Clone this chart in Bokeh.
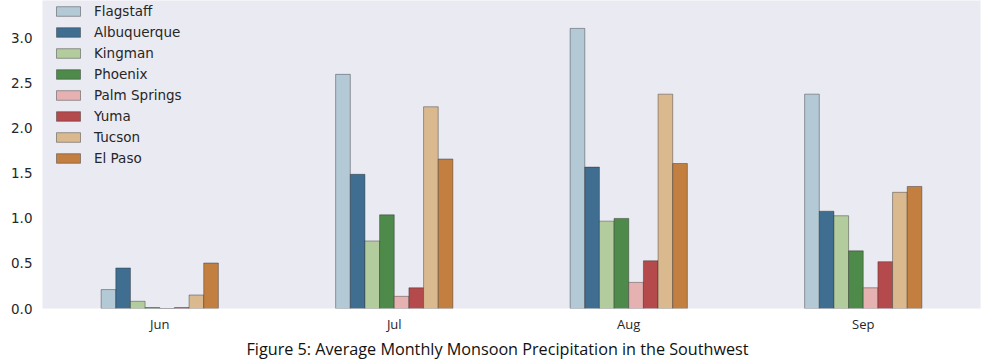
from bokeh.plotting import figure
from bokeh.models import ColumnDataSource, FactorRange, Range1d, Title, Legend, LegendItem, NumeralTickFormatter
from bokeh.transform import dodge
from bokeh.embed import file_html
from bokeh.resources import INLINE

months = ["Jun", "Jul", "Aug", "Sep"]
cities = ["Flagstaff", "Albuquerque", "Kingman", "Phoenix", "Palm Springs", "Yuma", "Tucson", "El Paso"]
flagstaff = [0.21, 2.60, 3.11, 2.38]
albuquerque = [0.45, 1.49, 1.57, 1.08]
kingman = [0.08, 0.75, 0.97, 1.03]
phoenix = [0.01, 1.04, 1.00, 0.64]
palm_springs = [0.0, 0.135, 0.29, 0.23]
yuma = [0.01, 0.23, 0.53, 0.52]
tucson = [0.15, 2.24, 2.38, 1.29]
el_paso = [0.505, 1.66, 1.61, 1.355]
series = [flagstaff, albuquerque, kingman, phoenix, palm_springs, yuma, tucson, el_paso]
colors = ["#b4c9d6", "#3f6e91", "#b2cc9e", "#4e8a4a", "#e6b1b1", "#b54a4d", "#dbb98f", "#c27f40"]
title_text = "Figure 5: Average Monthly Monsoon Precipitation in the Southwest"

data = {"month": months}
for c, s in zip(cities, series):
    data[c] = s
source = ColumnDataSource(data)

p = figure(x_range=FactorRange(*months), y_range=Range1d(0, 3.42),
           width=989, height=359, output_backend="svg", toolbar_location=None,
           min_border_left=42, min_border_right=9, min_border_top=0, min_border_bottom=0)
p.background_fill_color = "#eaeaf2"
p.border_fill_color = "white"
p.outline_line_color = None
p.xgrid.visible = False
p.ygrid.visible = False

n = len(cities)
bw = 0.5 / n
items = []
for i, (c, col) in enumerate(zip(cities, colors)):
    off = -0.25 + bw * (i + 0.5)
    r = p.vbar(x=dodge("month", off, range=p.x_range), top=c, width=bw, source=source,
               fill_color=col, line_color="#222222", line_alpha=0.4, line_width=1)
    items.append(LegendItem(label=c, renderers=[r]))

legend = Legend(items=items, location=(6, 137))
legend.background_fill_alpha = 0
legend.border_line_alpha = 0
legend.label_text_font = "DejaVu Sans"
legend.label_text_font_size = "13.5px"
legend.label_text_color = "#262626"
legend.glyph_width = 30
legend.glyph_height = 12
legend.label_height = 16
legend.spacing = 5
legend.margin = 0
legend.padding = 5
legend.label_standoff = 11
p.add_layout(legend)

for ax in (p.xaxis[0], p.yaxis[0]):
    ax.axis_line_color = None
    ax.major_tick_line_color = None
    ax.minor_tick_line_color = None
    ax.major_tick_out = 0
    ax.major_tick_in = 0
    ax.minor_tick_out = 0
    ax.major_label_text_color = "#262626"
p.yaxis[0].major_label_text_font = "DejaVu Sans"
p.yaxis[0].major_label_text_font_size = "13.5px"
p.yaxis[0].ticker.desired_num_ticks = 8
p.yaxis[0].formatter = NumeralTickFormatter(format="0.0")
p.yaxis[0].major_label_standoff = 10
p.xaxis[0].major_label_text_font = "Open Sans"
p.xaxis[0].major_label_text_font_size = "13px"
p.xaxis[0].major_label_standoff = 6

t = Title(text=title_text, align="left", text_font="Open Sans", text_font_size="16.2px",
          text_font_style="normal", text_color="#111111", offset=204, standoff=0)
p.add_layout(t, "below")

open("out.html", "w").write(file_html(p, INLINE))
